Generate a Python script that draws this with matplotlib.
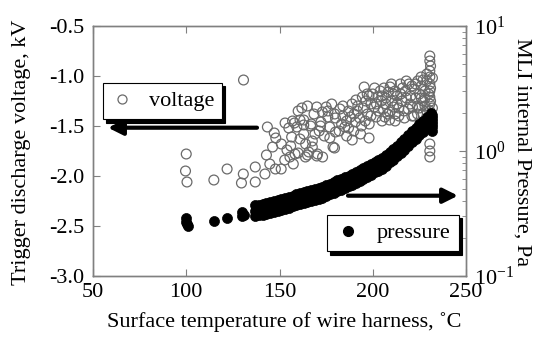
import numpy as np
import matplotlib
matplotlib.use("Agg")
import matplotlib.pyplot as plt
from matplotlib.lines import Line2D

plt.rcParams['font.family'] = ['Liberation Serif', 'DejaVu Serif']
plt.rcParams['mathtext.fontset'] = 'custom'
plt.rcParams['mathtext.rm'] = 'Liberation Serif'
plt.rcParams['mathtext.default'] = 'rm'

# trigger discharge voltage (open circles)
voltage_temp = [100, 99.6, 100.4, 130.7, 114.8, 121.9, 130.6, 129.6, 137, 137,
                142.2, 143.5, 147.2, 146.3, 148, 143, 144.8, 147.8, 150.9, 152.8,
                155.6, 157.4, 158.3, 156.5, 159.3, 161, 160, 162, 163, 163.9,
                163, 165.7, 167.6, 166.7, 168.5, 167.6, 170.4, 173.1, 171.3, 172.2,
                175, 175.9, 176.9, 178.7, 179.5, 179.6, 182.4, 183.3, 185, 187,
                188.9, 188, 189.8, 190.7, 191.7, 193.5, 195.4, 194.4, 196.3, 197.2,
                198.1, 200, 200.9, 201.9, 202.8, 204.6, 205.6, 206.5, 208.3, 209.3,
                210.2, 211.1, 212, 213, 214.8, 215.7, 216.7, 217.6, 219.4, 220.4,
                221.3, 222.2, 224.1, 225, 225.9, 226.9,
                230.6, 230.6, 230.6, 230.6, 230.6, 230.6, 230.6, 230.6, 230.6, 230.6,
                230.6, 230.6, 230.6,
                165, 170, 158, 163, 167, 172, 160, 165, 170, 153, 155, 157,
                176, 180, 184, 186, 190, 192, 194, 182, 186, 196, 199, 203, 198, 189, 209,
                205, 207, 209, 211, 213, 214, 216, 218, 219, 221, 223, 224, 226, 228,
                228, 229, 227, 222, 217, 212, 205, 206, 201, 198, 231, 231, 231, 232, 232,
                151, 154, 156, 161, 164, 169, 174, 177, 173, 178, 180, 184, 187, 191,
                193, 195, 197, 199, 202, 204, 207, 208, 210, 212, 214, 215, 218, 220,
                221, 223, 225, 226, 227, 228, 229, 230, 229, 224]
voltage_kv = [-1.78, -1.95, -2.06, -1.04, -2.04, -1.93, -1.98, -2.07, -1.91, -2.06,
              -1.98, -1.51, -1.57, -1.71, -1.62, -1.79, -1.88, -1.93, -1.93, -1.84,
              -1.81, -1.88, -1.78, -1.61, -1.51, -1.44, -1.35, -1.32, -1.44, -1.81,
              -1.58, -1.76, -1.65, -1.50, -1.38, -1.71, -1.78, -1.81, -1.55, -1.46,
              -1.31, -1.41, -1.51, -1.71, -1.72, -1.38, -1.33, -1.48, -1.51, -1.35,
              -1.28, -1.41, -1.55, -1.46, -1.35, -1.58, -1.11, -1.21, -1.25, -1.38,
              -1.48, -1.18, -1.31, -1.41, -1.21, -1.25, -1.33, -1.41, -1.16, -1.11,
              -1.25, -1.31, -1.38, -1.20, -1.08, -1.25, -1.35, -1.15, -1.08, -1.20,
              -1.31, -1.13, -1.05, -1.18, -1.01, -1.25,
              -0.80, -0.85, -0.95, -1.01, -1.08, -1.15, -1.21, -1.28, -1.35, -1.41,
              -1.68, -1.75, -1.81,
              -1.30, -1.31, -1.47, -1.49, -1.48, -1.50, -1.77, -1.79, -1.80, -1.47, -1.52, -1.45,
              -1.35, -1.42, -1.30, -1.45, -1.38, -1.30, -1.50, -1.55, -1.60, -1.45, -1.28, -1.35,
              -1.62, -1.64, -1.44,
              -1.20, -1.28, -1.36, -1.18, -1.28, -1.40, -1.12, -1.22, -1.33, -1.10, -1.22, -1.30,
              -1.10, -1.15, -1.30, -1.05, -1.38, -1.40, -1.42, -1.45, -1.45, -1.12, -1.12, -1.20,
              -0.90, -1.12, -1.25, -1.32, -1.02,
              -1.68, -1.74, -1.70, -1.63, -1.68, -1.58, -1.60, -1.62, -1.36, -1.28,
              -1.56, -1.40, -1.52, -1.24, -1.42, -1.32, -1.18, -1.40, -1.28, -1.15,
              -1.22, -1.38, -1.08, -1.15, -1.32, -1.18, -1.05, -1.28, -1.40, -1.08,
              -1.32, -1.22, -1.04, -1.22, -1.35, -1.18, -0.98, -1.38]

# MLI internal pressure (filled circles), sparse low-temperature part
p_temp_low = [100, 100, 101, 100.5, 115, 122, 130, 130, 131, 137.5, 137.5, 140, 142, 144, 144]
p_low = [0.29, 0.27, 0.25, 0.26, 0.276, 0.292, 0.325, 0.30, 0.31, 0.345, 0.316, 0.33,
         0.34, 0.335, 0.36]

# dense band
band_temp = [137, 139, 141, 143, 145, 147, 149, 151, 153, 155, 157, 159, 161, 163, 165,
             167, 169, 171, 173, 175, 177, 179, 181, 183, 185, 187, 189, 191, 193, 195,
             197, 199, 201, 203, 205, 207, 209, 211, 213, 215, 217, 219, 221, 223, 225,
             227, 229, 231]
band_center = [0.333, 0.338, 0.343, 0.349, 0.355, 0.361, 0.368, 0.375, 0.382, 0.39,
               0.398, 0.406, 0.414, 0.422, 0.43, 0.438, 0.446, 0.455, 0.468, 0.482,
               0.496, 0.51, 0.527, 0.543, 0.56, 0.575, 0.595, 0.615, 0.64, 0.66,
               0.685, 0.715, 0.745, 0.77, 0.80, 0.845, 0.895, 0.945, 1.0, 1.06,
               1.13, 1.21, 1.30, 1.38, 1.48, 1.58, 1.72, 1.86]
band_upper = [0.368, 0.373, 0.379, 0.386, 0.393, 0.400, 0.407, 0.415, 0.423, 0.432,
              0.440, 0.449, 0.458, 0.467, 0.476, 0.484, 0.493, 0.503, 0.518, 0.533,
              0.549, 0.564, 0.583, 0.600, 0.619, 0.636, 0.658, 0.680, 0.708, 0.730,
              0.758, 0.791, 0.824, 0.852, 0.885, 0.934, 0.990, 1.04, 1.10, 1.17,
              1.25, 1.34, 1.44, 1.52, 1.63, 1.74, 1.88, 2.03]
band_lower = [0.301, 0.306, 0.310, 0.316, 0.321, 0.327, 0.333, 0.339, 0.345, 0.353,
              0.360, 0.367, 0.374, 0.382, 0.389, 0.396, 0.403, 0.411, 0.423, 0.436,
              0.449, 0.461, 0.476, 0.491, 0.506, 0.520, 0.538, 0.556, 0.579, 0.597,
              0.619, 0.647, 0.674, 0.697, 0.724, 0.765, 0.810, 0.855, 0.905, 0.959,
              1.02, 1.09, 1.18, 1.25, 1.34, 1.43, 1.56, 1.68]
p_temp_end = [232, 232, 232, 232, 232, 232]
p_end = [1.45, 1.55, 1.65, 1.75, 1.85, 1.95]

x_ticks = [50, 100, 150, 200, 250]
v_ticks = [-3.0, -2.5, -2.0, -1.5, -1.0, -0.5]
p_ticks = [0.1, 1, 10]
p_labels = ['10$^{-1}$', '10$^{0}$', '10$^{1}$']

fig = plt.figure(figsize=(5.43, 3.38), dpi=100)
ax = fig.add_axes([93 / 543, 1 - 276 / 338, 373 / 543, 250 / 338])
ax2 = ax.twinx()

gray = '#808080'
ax.scatter(voltage_temp, voltage_kv, s=50, facecolors='none', edgecolors='#6a6a6a',
           linewidths=0.9, zorder=3)
for t, p in [(p_temp_low, p_low), (band_temp, band_upper), (band_temp, band_center),
             (band_temp, band_lower), (p_temp_end, p_end)]:
    ax2.scatter(t, p, s=52, color='black', edgecolors='black', linewidths=0.5, zorder=3)

ax.set_xlim(50, 250)
ax.set_ylim(-3.0, -0.5)
ax.set_xticks(x_ticks)
ax.set_yticks(v_ticks)
ax.set_yticklabels(['%.1f' % v for v in v_ticks])
ax2.set_yscale('log')
ax2.set_ylim(0.1, 10)
ax2.set_yticks(p_ticks)
ax2.set_yticklabels(p_labels)

for a in (ax, ax2):
    for s in a.spines.values():
        s.set_color(gray)
        s.set_linewidth(1.0)
ax.tick_params(axis='both', direction='in', length=5, width=0.8, color=gray,
               labelsize=16, top=True, right=False, pad=6)
ax.tick_params(axis='x', pad=5)
ax2.tick_params(axis='y', which='major', direction='in', length=5, width=0.8,
                color=gray, labelsize=16, pad=6)
ax2.tick_params(axis='y', which='minor', direction='in', length=3, width=0.6, color=gray)

fig.text(22 / 543, 1 - 152 / 338, 'Trigger discharge voltage, kV', rotation=90,
         fontsize=16, ha='center', va='center')
fig.text(522 / 543, 1 - 152 / 338, 'MLI internal Pressure, Pa', rotation=270,
         fontsize=16, ha='center', va='center')
fig.text(284 / 543, 1 - 322 / 338, 'Surface temperature of wire harness, \u02daC',
         fontsize=16, ha='center', va='center')

shadow = {'color': 'black', 'alpha': 1.0, 'ox': 2.5, 'oy': -2.5}
h_v = Line2D([], [], ls='none', marker='o', ms=6.5, mfc='none', mec='#6a6a6a', mew=0.9)
leg1 = fig.legend([h_v], ['voltage'], loc='upper left',
                  bbox_to_anchor=(103 / 543, 1 - 83 / 338), fontsize=16,
                  frameon=True, fancybox=False, shadow=shadow, handlelength=1.0,
                  handletextpad=0.7, borderpad=0.35, borderaxespad=0, framealpha=1)
leg1.get_frame().set_edgecolor('black')
leg1.get_frame().set_linewidth(0.8)
h_p = Line2D([], [], ls='none', marker='o', ms=7, mfc='black', mec='black')
leg2 = fig.legend([h_p], ['pressure'], loc='upper left',
                  bbox_to_anchor=(327 / 543, 1 - 215 / 338), fontsize=16,
                  frameon=True, fancybox=False, shadow=shadow, handlelength=1.2,
                  handletextpad=0.7, borderpad=0.35, borderaxespad=0, framealpha=1)
leg2.get_frame().set_edgecolor('black')
leg2.get_frame().set_linewidth(0.8)

arrow = dict(arrowstyle='-|>', lw=3, color='black', mutation_scale=22,
             shrinkA=0, shrinkB=0)
ax.annotate('', xy=(108 / 543, 1 - 127.7 / 338), xytext=(257 / 543, 1 - 127.7 / 338),
            xycoords='figure fraction', textcoords='figure fraction', arrowprops=arrow)
ax.annotate('', xy=(458 / 543, 1 - 195.7 / 338), xytext=(348 / 543, 1 - 195.7 / 338),
            xycoords='figure fraction', textcoords='figure fraction', arrowprops=arrow)

fig.savefig('out.png', dpi=100)
